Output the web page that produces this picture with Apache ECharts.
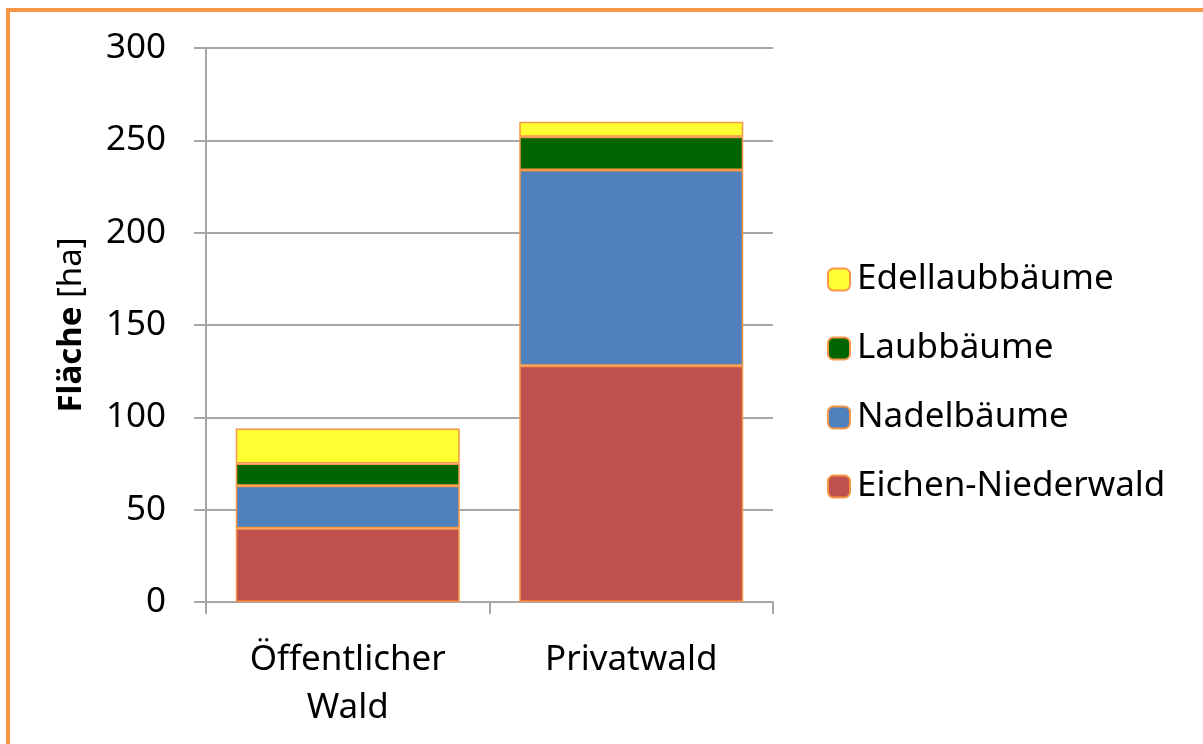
<!DOCTYPE html>
<html>
<head>
<meta charset="utf-8">
<script src="https://cdn.jsdelivr.net/npm/echarts@6/dist/echarts.min.js"></script>
<style>
  html, body { margin: 0; padding: 0; background: #fff; overflow: hidden; }
  #frame { position: absolute; left: 6px; top: 8px; width: 1400px; height: 900px; border: 4px solid #f79646; box-sizing: border-box; }
  #main { position: absolute; left: 0; top: 0; width: 1203px; height: 744px; }
</style>
</head>
<body>
<div id="frame"></div>
<div id="main"></div>
<script>
// Kategorien und Werte (ha)
var categories = ['Öffentlicher\nWald', 'Privatwald']
var eichenNiederwald = [40, 128]
var nadelbaeume = [23, 106]
var laubbaeume = [12, 18]
var edellaubbaeume = [19, 8]
var yTicks = { min: 0, max: 300, interval: 50 }

var fontFam = '"Noto Sans", "DejaVu Sans", sans-serif'
var barBorder = { borderColor: '#f79646', borderWidth: 1.5 }

var myChart = echarts.init(document.getElementById('main'))
var option = {
  animation: false,
  textStyle: { fontFamily: fontFam },
  grid: {
    left: 206,
    right: 430,
    top: 48,
    bottom: 142
  },
  legend: {
    orient: 'vertical',
    left: 822,
    top: 257,
    itemWidth: 22,
    itemHeight: 22,
    itemGap: 34,
    textStyle: { fontSize: 35, color: '#000', fontFamily: fontFam, padding: [0, 0, 0, 2] },
    data: ['Edellaubbäume', 'Laubbäume', 'Nadelbäume', 'Eichen-Niederwald']
  },
  xAxis: {
    type: 'category',
    data: categories,
    axisLine: { show: true, lineStyle: { color: '#a6a6a6', width: 2 } },
    axisTick: { show: true, length: 12, lineStyle: { color: '#a6a6a6', width: 2 } },
    axisLabel: {
      color: '#000',
      fontSize: 35,
      lineHeight: 48,
      margin: 34,
      interval: 0
    }
  },
  yAxis: {
    type: 'value',
    min: yTicks.min,
    max: yTicks.max,
    interval: yTicks.interval,
    name: '{b|Fläche}{n| [ha]}',
    nameLocation: 'middle',
    nameGap: 118,
    nameRotate: 90,
    nameTextStyle: {
      rich: {
        b: { fontSize: 33, fontWeight: 'bold', color: '#000', fontFamily: fontFam },
        n: { fontSize: 33, color: '#000', fontFamily: fontFam }
      }
    },
    axisLine: { show: true, lineStyle: { color: '#a6a6a6', width: 2 } },
    axisTick: { show: true, length: 12, lineStyle: { color: '#a6a6a6', width: 2 } },
    axisLabel: { color: '#000', fontSize: 35, margin: 40 },
    splitLine: { show: true, lineStyle: { color: '#a6a6a6', width: 2 } }
  },
  series: [
    {
      name: 'Eichen-Niederwald',
      type: 'bar',
      stack: 'wald',
      barWidth: 224,
      data: eichenNiederwald,
      itemStyle: Object.assign({ color: '#c0504d' }, barBorder)
    },
    {
      name: 'Nadelbäume',
      type: 'bar',
      stack: 'wald',
      data: nadelbaeume,
      itemStyle: Object.assign({ color: '#4f81bd' }, barBorder)
    },
    {
      name: 'Laubbäume',
      type: 'bar',
      stack: 'wald',
      data: laubbaeume,
      itemStyle: Object.assign({ color: '#006400' }, barBorder)
    },
    {
      name: 'Edellaubbäume',
      type: 'bar',
      stack: 'wald',
      data: edellaubbaeume,
      itemStyle: Object.assign({ color: '#ffff33' }, barBorder)
    }
  ]
}
myChart.setOption(option)
</script>
</body>
</html>
